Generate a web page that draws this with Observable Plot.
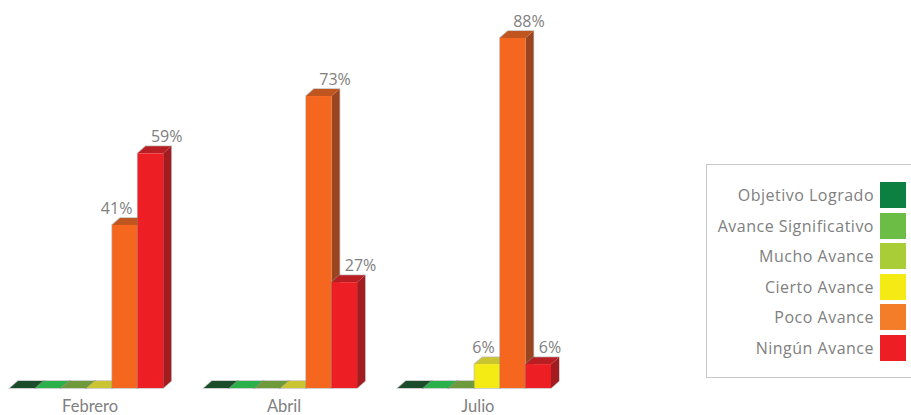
<!DOCTYPE html>
<html><head><meta charset="utf-8">
<script src="https://cdn.jsdelivr.net/npm/d3@7"></script>
<script src="https://cdn.jsdelivr.net/npm/@observablehq/plot@0.6"></script>
<style>
html,body{margin:0;padding:0;background:#fff;width:911px;height:415px;overflow:hidden}
#chart{position:absolute;left:0;top:0}
#legend{position:absolute;left:706px;top:164px;width:205px;height:214px;box-sizing:border-box;border:1.5px solid #c8c8c8;border-right:none;background:#fff}
.item{position:absolute;right:5px;height:26px;display:flex;align-items:center;gap:6px;white-space:nowrap;color:#808080;font:16px "Open Sans",sans-serif;letter-spacing:.5px}
.item i{display:block;width:26px;height:26px}
</style></head><body>
<div id="chart"></div><div id="legend"></div>
<script>
const months = ["Febrero","Abril","Julio"];
const statuses = ["Objetivo Logrado","Avance Significativo","Mucho Avance","Cierto Avance","Poco Avance","Ningún Avance"];
const febrero = [0,0,0,0,41,59];
const abril = [0,0,0,0,73.4,26.6];
const julio = [0,0,0,6,88,6];
const barColors = ["#0c8040","#6cbd45","#a8cd37","#f4ea14","#f5671f","#ed1f24"];
const legendColors = ["#0c8040","#6cbd45","#a8cd37","#f4ea14","#f47d2a","#ed1f24"];
const topColors = ["#1c4d2a","#2bb04a","#6f9a3c","#c9c430","#c0561f","#b81e22"];
const sideColors = ["#14522c","#3f8a32","#7a9628","#b5ad10","#9a4520","#a31d20"];
const seriesByMonth = [febrero,abril,julio];

const rows = months.flatMap((month,m)=>statuses.map((status,s)=>({
  month,status,s,value:seriesByMonth[m][s],
  next:s<5?seriesByMonth[m][s+1]:0
})));
const labelled = rows.filter(d=>d.value>0);
const depthX = 8, depthY = 7;
const NS = "http://www.w3.org/2000/svg";

function extrude(index,scales,values,dims,ctx,next){
  const g = next(index,scales,values,dims,ctx);
  const rects = [...g.querySelectorAll("rect")];
  rects.forEach((r,k)=>{
    const d = rows[index[k]];
    const x=+r.getAttribute("x"), y=+r.getAttribute("y"), w=+r.getAttribute("width"), h=+r.getAttribute("height");
    const poly=(pts,fill)=>{
      const p=document.createElementNS(NS,"polygon");
      p.setAttribute("points",pts.map(q=>q.join(",")).join(" "));
      p.setAttribute("fill",fill);
      r.parentNode.insertBefore(p,r);
      return p;
    };
    const hull=poly([[x,y+h],[x,y],[x+depthX,y-depthY],[x+w+depthX,y-depthY],[x+w+depthX,y+h-depthY],[x+w,y+h]],"none");
    hull.setAttribute("stroke","#8c8c8c");
    hull.setAttribute("stroke-width",1.5);
    hull.setAttribute("stroke-opacity",0.55);
    poly([[x+w,y],[x+w+depthX,y-depthY],[x+w+depthX,y+h-depthY],[x+w,y+h]],sideColors[d.s]);
    poly([[x,y],[x+depthX,y-depthY],[x+w+depthX,y-depthY],[x+w,y]],topColors[d.s]);
  });
  return g;
}

const textStyle = {fill:"#808080",fontSize:16,fontFamily:"'Open Sans',sans-serif",fx:"month",x:"status",y:"value",text:d=>Math.round(d.value)+"%"};

const plot = Plot.plot({
  width:911,height:415,
  marginLeft:10,marginRight:360,marginTop:30,marginBottom:27,
  style:{background:"transparent",overflow:"visible"},
  fx:{domain:months,paddingInner:0.21,paddingOuter:0,round:false,label:null},
  x:{domain:statuses,padding:0,round:false,axis:null,label:null},
  y:{domain:[0,90],axis:null,label:null},
  color:{domain:statuses,range:barColors},
  marks:[
    Plot.barY(rows,{fx:"month",x:"status",y:"value",fill:"status",render:extrude}),
    Plot.text(labelled.filter(d=>d.next<=d.value),{...textStyle,dy:-17,dx:0,textAnchor:"start"}),
    Plot.text(labelled.filter(d=>d.next>d.value),{...textStyle,dy:-17,dx:7,textAnchor:"end"}),
    Plot.axisFx({anchor:"bottom",tickSize:0,tickPadding:12,dx:3,label:null,fontSize:16.5,fontFamily:"Lato,sans-serif",color:"#808080",fill:"#808080"})
  ]
});
document.getElementById("chart").appendChild(plot);

const legend = document.getElementById("legend");
const legendTops = [16.5,47.5,77.5,108.5,138.5,169.5];
statuses.forEach((s,i)=>{
  const el=document.createElement("div");
  el.className="item";el.style.top=legendTops[i]+"px";
  const label=document.createElement("span");label.textContent=s;
  const sw=document.createElement("i");sw.style.background=legendColors[i];
  el.append(label,sw);legend.appendChild(el);
});
</script></body></html>
